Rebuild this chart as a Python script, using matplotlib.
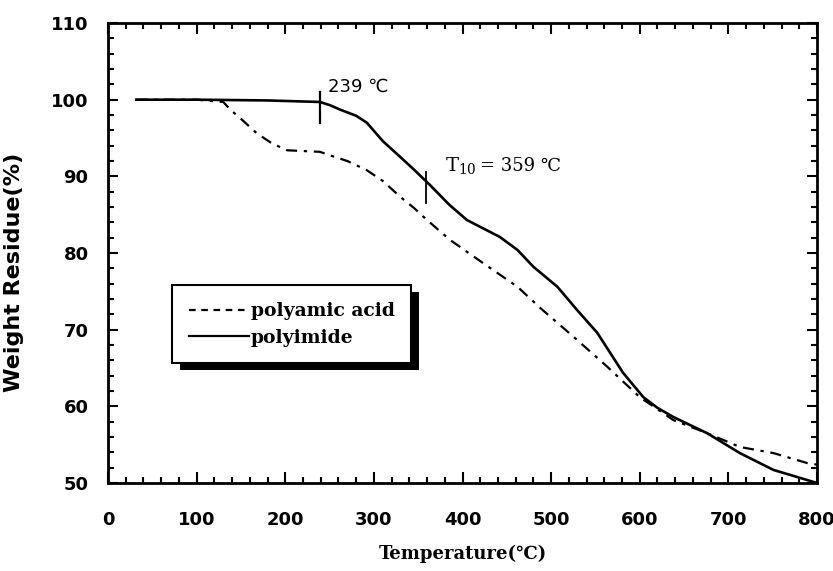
import matplotlib
matplotlib.use('Agg')
import matplotlib.pyplot as plt
from matplotlib.lines import Line2D
from matplotlib.patches import Rectangle
from matplotlib.ticker import MultipleLocator

plt.rcParams['mathtext.fontset'] = 'dejavuserif'

# TGA curves (temperature in C, weight residue in %)
imide_temp = [32, 100, 180, 239, 250, 262, 280, 292, 310, 330, 345, 363, 385, 405,
              442, 462, 480, 507, 529, 552, 581, 604, 620, 638, 676, 713, 751, 780, 800]
imide_wt = [100, 100, 99.9, 99.7, 99.3, 98.7, 97.9, 97.0, 94.6, 92.5, 90.9, 88.9, 86.3, 84.3,
            82.1, 80.4, 78.2, 75.6, 72.6, 69.6, 64.4, 61.2, 59.8, 58.6, 56.5, 53.9, 51.7, 50.7, 50.0]

acid_temp = [32, 100, 130, 138, 150, 168, 185, 202, 220, 239, 254, 270, 292, 310, 330,
             345, 360, 386, 423, 462, 488, 525, 563, 600, 638, 676, 713, 751, 789, 800]
acid_wt = [100, 100, 99.7, 98.7, 97.5, 95.6, 94.3, 93.4, 93.3, 93.2, 92.6, 92.0, 90.8, 89.4, 87.3,
           85.9, 84.3, 81.7, 78.7, 75.6, 72.8, 69.1, 65.2, 61.2, 58.2, 56.5, 54.7, 53.9, 52.6, 52.4]

onset_temp = 239
t10_temp = 359

SERIF = ['DejaVu Serif', 'DejaVu Sans']

fig = plt.figure(figsize=(8.33, 5.71), dpi=100)
ax = fig.add_axes([0.1297, 0.1541, 0.8511, 0.8056])

ax.plot(acid_temp, acid_wt, color='black', lw=1.6, ls=(0, (5, 3, 1.5, 3)))
ax.plot(imide_temp, imide_wt, color='black', lw=1.9)

# small vertical markers on the polyimide curve
ax.plot([onset_temp, onset_temp], [97.0, 101.0], color='black', lw=1.6)
ax.plot([t10_temp, t10_temp], [86.5, 90.6], color='black', lw=1.3)

ax.text(248, 101.7, '239 \u2103', fontsize=13, family=['DejaVu Sans'], va='center')
ax.text(380, 91.4, '$\\mathrm{T_{10}}$', fontsize=14, family=SERIF, va='center')
ax.text(420, 91.4, '= 359 \u2103', fontsize=13, family=SERIF, va='center')

ax.set_xlim(0, 800)
ax.set_ylim(50, 110)
ax.xaxis.set_major_locator(MultipleLocator(100))
ax.xaxis.set_minor_locator(MultipleLocator(20))
ax.yaxis.set_major_locator(MultipleLocator(10))
ax.yaxis.set_minor_locator(MultipleLocator(2))

for s in ax.spines.values():
    s.set_linewidth(2.0)
ax.tick_params(which='both', direction='in', top=True, right=True, width=1.5)
ax.tick_params(axis='x', which='major', length=8, pad=20)
ax.tick_params(axis='x', which='minor', length=4)
ax.tick_params(axis='y', which='major', length=7, pad=14)
ax.tick_params(axis='y', which='minor', length=4)
for lab in ax.get_xticklabels() + ax.get_yticklabels():
    lab.set_fontsize(13)
    lab.set_fontweight('bold')

ax.set_ylabel('Weight Residue(%)', fontsize=16, fontweight='bold')
ax.yaxis.set_label_coords(-0.118, 0.457)
ax.set_xlabel('Temperature(\u2103)', fontsize=13, fontweight='bold', family=SERIF)
ax.xaxis.set_label_coords(0.5, -0.135)

handles = [Line2D([], [], color='black', lw=1.6, ls=(0, (3, 2.5))),
           Line2D([], [], color='black', lw=1.6)]
leg = ax.legend(handles, ['polyamic acid', 'polyimide'], loc='upper left',
                bbox_to_anchor=(0.090, 0.430), borderaxespad=0, fancybox=False,
                framealpha=1, edgecolor='black', handlelength=3.2, handletextpad=0.1,
                borderpad=0.9, labelspacing=0.45,
                prop={'family': 'DejaVu Serif', 'weight': 'bold', 'size': 13.5})
leg.get_frame().set_linewidth(1.5)
leg.set_zorder(5)

# drop shadow behind the legend box
fig.canvas.draw()
bb = leg.get_window_extent().transformed(ax.transAxes.inverted())
dx = 8 / ax.bbox.width
dy = 7 / ax.bbox.height
ax.add_patch(Rectangle((bb.x0 + dx, bb.y0 - dy), bb.width, bb.height,
                       transform=ax.transAxes, facecolor='black', edgecolor='none',
                       zorder=4.9, clip_on=False))

fig.savefig('out.png', dpi=100, facecolor='white')
